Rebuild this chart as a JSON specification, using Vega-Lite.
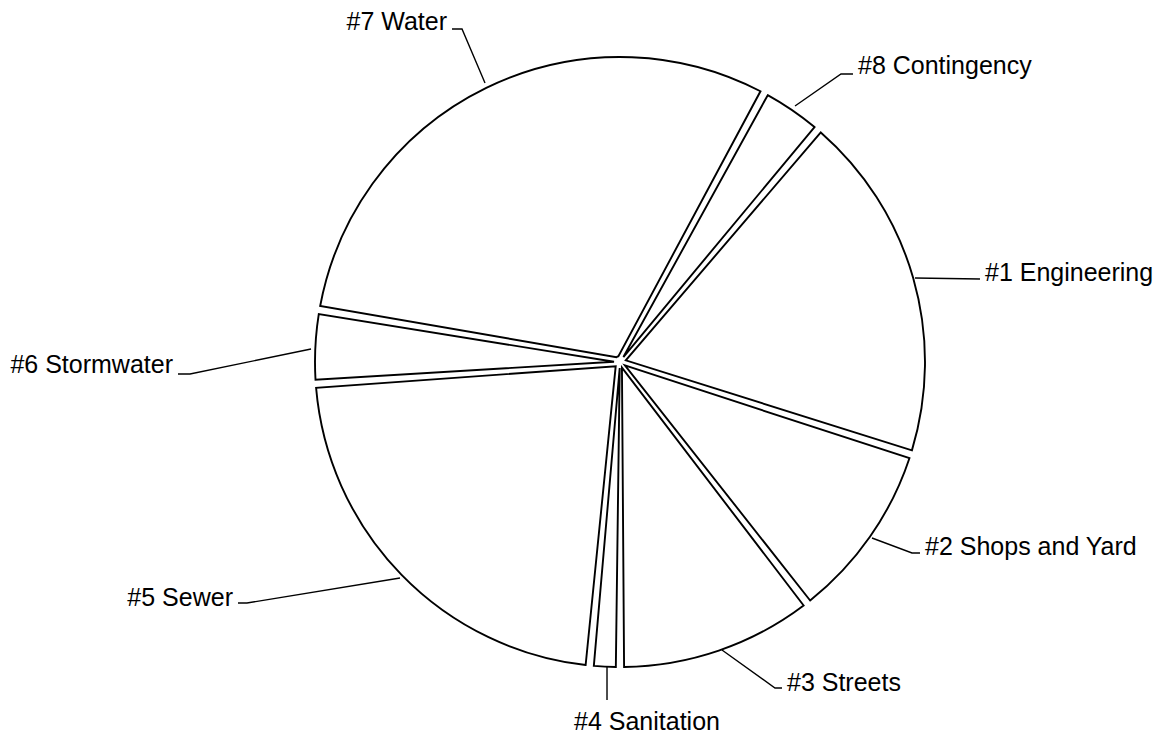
{
  "$schema": "https://vega.github.io/schema/vega-lite/v6.json",
  "width": 1160,
  "height": 736,
  "autosize": {"type": "none"},
  "padding": 0,
  "background": "white",
  "config": {"view": {"stroke": null}},
  "datasets": {
    "slices": [
      {"k": 1, "name": "#1 Engineering", "v": 18.67},
      {"k": 2, "name": "#2 Shops and Yard", "v": 9.61},
      {"k": 3, "name": "#3 Streets", "v": 10.5},
      {"k": 4, "name": "#4 Sanitation", "v": 1.58},
      {"k": 5, "name": "#5 Sewer", "v": 22.28},
      {"k": 6, "name": "#6 Stormwater", "v": 3.86},
      {"k": 7, "name": "#7 Water", "v": 30.11},
      {"k": 8, "name": "#8 Contingency", "v": 3.39}
    ],
    "leaders": [
      {"name": "#7 Water", "p": 1, "x": -0.4426, "y": 0.9148},
      {"name": "#7 Water", "p": 2, "x": -0.518, "y": 1.0918},
      {"name": "#7 Water", "p": 3, "x": -0.5508, "y": 1.0918},
      {"name": "#8 Contingency", "p": 1, "x": 0.5738, "y": 0.8393},
      {"name": "#8 Contingency", "p": 2, "x": 0.7246, "y": 0.9443},
      {"name": "#8 Contingency", "p": 3, "x": 0.7639, "y": 0.9443},
      {"name": "#1 Engineering", "p": 1, "x": 0.9672, "y": 0.2754},
      {"name": "#1 Engineering", "p": 2, "x": 1.1803, "y": 0.272},
      {"name": "#2 Shops and Yard", "p": 1, "x": 0.8262, "y": -0.577},
      {"name": "#2 Shops and Yard", "p": 2, "x": 0.9574, "y": -0.6262},
      {"name": "#2 Shops and Yard", "p": 3, "x": 0.9836, "y": -0.6262},
      {"name": "#3 Streets", "p": 1, "x": 0.3344, "y": -0.9443},
      {"name": "#3 Streets", "p": 2, "x": 0.5082, "y": -1.0689},
      {"name": "#3 Streets", "p": 3, "x": 0.5311, "y": -1.0689},
      {"name": "#4 Sanitation", "p": 1, "x": -0.0426, "y": -1.0},
      {"name": "#4 Sanitation", "p": 2, "x": -0.0426, "y": -1.1082},
      {"name": "#5 Sewer", "p": 1, "x": -0.7213, "y": -0.7082},
      {"name": "#5 Sewer", "p": 2, "x": -1.223, "y": -0.7902},
      {"name": "#5 Sewer", "p": 3, "x": -1.2525, "y": -0.7902},
      {"name": "#6 Stormwater", "p": 1, "x": -1.0131, "y": 0.0426},
      {"name": "#6 Stormwater", "p": 2, "x": -1.4098, "y": -0.0393},
      {"name": "#6 Stormwater", "p": 3, "x": -1.4492, "y": -0.0393}
    ],
    "labels": [
      {"name": "#7 Water", "side": "right", "x": -0.5672, "y": 1.1148},
      {"name": "#8 Contingency", "side": "left", "x": 0.7803, "y": 0.9705},
      {"name": "#1 Engineering", "side": "left", "x": 1.1967, "y": 0.2918},
      {"name": "#2 Shops and Yard", "side": "left", "x": 1.0, "y": -0.6066},
      {"name": "#3 Streets", "side": "left", "x": 0.5475, "y": -1.0525},
      {"name": "#4 Sanitation", "side": "center", "x": 0.0885, "y": -1.1803},
      {"name": "#5 Sewer", "side": "right", "x": -1.2689, "y": -0.7738},
      {"name": "#6 Stormwater", "side": "right", "x": -1.4656, "y": -0.0098}
    ]
  },
  "layer": [
    {
      "data": {"name": "slices"},
      "mark": {"type": "arc", "outerRadius": 305, "innerRadius": 6, "padAngle": 0.027, "fill": "white", "stroke": "black", "strokeWidth": 1.9},
      "encoding": {
        "theta": {"field": "v", "type": "quantitative", "stack": true, "scale": {"range": [0.7051, 6.9883]}},
        "order": {"field": "k", "type": "quantitative"},
        "x": {"datum": 0, "type": "quantitative", "scale": {"domain": [-2.0328, 1.7705], "nice": false, "zero": false}, "axis": null},
        "y": {"datum": 0, "type": "quantitative", "scale": {"domain": [-1.2262, 1.1869], "nice": false, "zero": false}, "axis": null}
      }
    },
    {
      "data": {"name": "leaders"},
      "mark": {"type": "line", "stroke": "black", "strokeWidth": 1.4},
      "encoding": {
        "x": {"field": "x", "type": "quantitative", "scale": {"domain": [-2.0328, 1.7705], "nice": false, "zero": false}, "axis": null},
        "y": {"field": "y", "type": "quantitative", "scale": {"domain": [-1.2262, 1.1869], "nice": false, "zero": false}, "axis": null},
        "detail": {"field": "name"},
        "order": {"field": "p", "type": "quantitative"}
      }
    },
    {
      "data": {"name": "labels"},
      "transform": [{"filter": "datum.side === 'left'"}],
      "mark": {"type": "text", "align": "left", "baseline": "middle", "font": "Liberation Sans", "fontSize": 25, "color": "black"},
      "encoding": {
        "x": {"field": "x", "type": "quantitative", "axis": null},
        "y": {"field": "y", "type": "quantitative", "axis": null},
        "text": {"field": "name"}
      }
    },
    {
      "data": {"name": "labels"},
      "transform": [{"filter": "datum.side === 'right'"}],
      "mark": {"type": "text", "align": "right", "baseline": "middle", "font": "Liberation Sans", "fontSize": 25, "color": "black"},
      "encoding": {
        "x": {"field": "x", "type": "quantitative", "axis": null},
        "y": {"field": "y", "type": "quantitative", "axis": null},
        "text": {"field": "name"}
      }
    },
    {
      "data": {"name": "labels"},
      "transform": [{"filter": "datum.side === 'center'"}],
      "mark": {"type": "text", "align": "center", "baseline": "middle", "font": "Liberation Sans", "fontSize": 25, "color": "black"},
      "encoding": {
        "x": {"field": "x", "type": "quantitative", "axis": null},
        "y": {"field": "y", "type": "quantitative", "axis": null},
        "text": {"field": "name"}
      }
    }
  ]
}
